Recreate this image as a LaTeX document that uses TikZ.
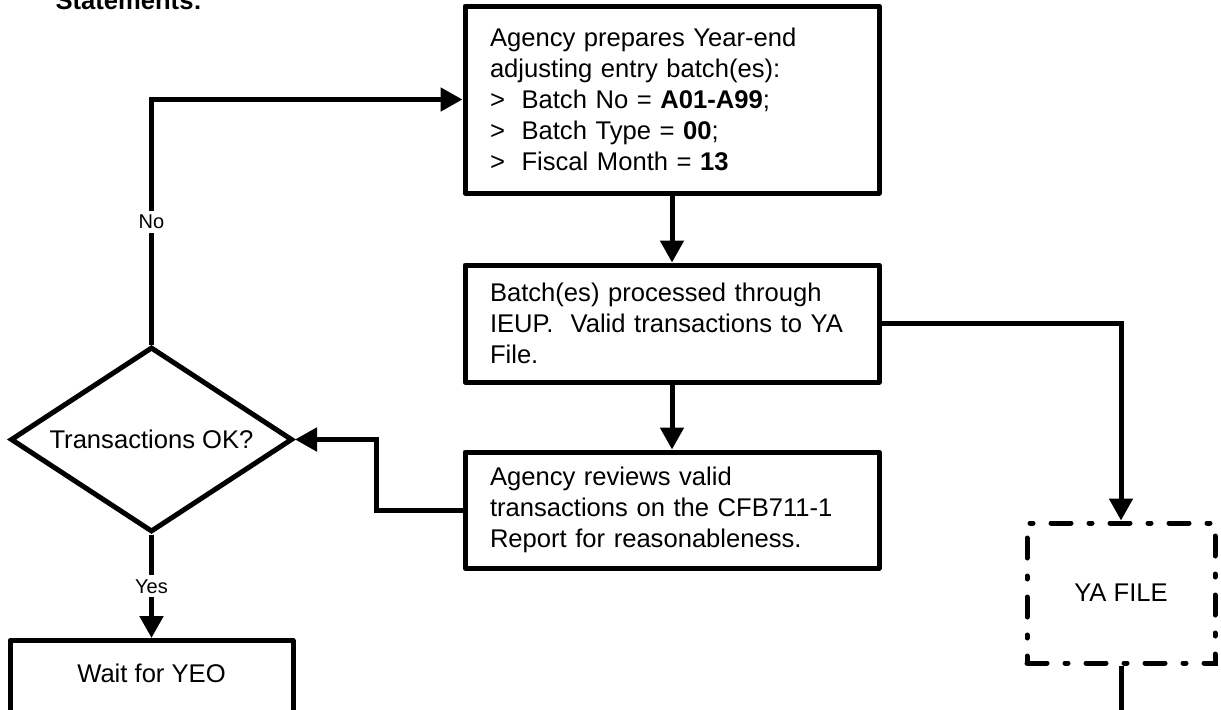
\documentclass[tikz,border=0pt]{standalone}
\usepackage{fontspec}
\setmainfont{Liberation Sans}
\usetikzlibrary{arrows.meta,shapes.geometric}
\begin{document}
\begin{tikzpicture}[x=0.5pt,y=-0.5pt,
  line width=2.5pt,
  basefont/.style={font=\fontsize{12.8}{15.5}\selectfont},
  procbox/.style={draw, rectangle, line width=2.5pt, line join=round, minimum width=207pt, text width=182pt,
    inner xsep=12.5pt, inner ysep=0pt, align=left, basefont},
  decbox/.style={draw, diamond, aspect=1.52, line width=2.5pt, minimum width=141pt,
    minimum height=92.5pt, inner sep=0pt, basefont},
  filebox/.style={draw, rectangle, line width=2.5pt, minimum width=94pt, minimum height=70pt,
    dash pattern=on 10pt off 9pt on 1.5pt off 9pt, line cap=round, basefont},
  arr/.style={-{Triangle[length=11pt,width=11.5pt]}, line width=2.5pt},
  plain/.style={line width=2.5pt},
  lbl/.style={fill=white, inner sep=2pt, font=\fontsize{10}{12}\selectfont}
]
\useasboundingbox (0,0) rectangle (1221,709);
\clip (0,0) rectangle (1221,709);

\node[anchor=base west, inner sep=0pt, font=\bfseries\fontsize{12.8}{15.5}\selectfont] (title) at (53,9) {Statements:};

\node[procbox, minimum height=93.5pt] (box1) at (672,99.5)
  {Agency prepares Year-end\\
   adjusting entry batch(es):\\
   >\hspace{0.65em}Batch No = \textbf{A01-A99};\\
   >\hspace{0.65em}Batch Type = \textbf{00};\\
   >\hspace{0.65em}Fiscal Month = \textbf{13}};

\node[procbox, minimum height=58.5pt] (box2) at (672,323.5)
  {Batch(es) processed through\\
   IEUP.\ \ Valid transactions to YA\\
   File.};

\node[procbox, minimum height=58pt] (box3) at (672,510)
  {Agency reviews valid\\
   transactions on the CFB711-1\\
   Report for reasonableness.};

\node[decbox] (dec) at (151.5,439.5) {Transactions OK?};

\node[draw, rectangle, line width=2.5pt, line join=round, minimum width=141.5pt, minimum height=40pt,
  anchor=north] (wait) at (151.5,638) {};
\node[basefont] (waittext) at (151.5,673) {Wait for YEO};

\node[filebox] (ya) at (1121,593) {YA FILE};
\coordinate (yaout) at (1121,740);

\draw[arr] (box1.south) -- (box2.north);
\draw[arr] (box2.south) -- (box3.north);
\draw[arr] (box2.east) -| (ya.north);
\draw[arr] (box3.west) -- ++(-86,0) |- (dec.east);
\draw[arr] (dec.north) |- node[lbl, pos=0.25] {No} (box1.west);
\draw[arr] (dec.south) -- node[lbl] {Yes} (wait.north);
\draw[plain] (ya.south) -- (yaout);
\end{tikzpicture}
\end{document}
